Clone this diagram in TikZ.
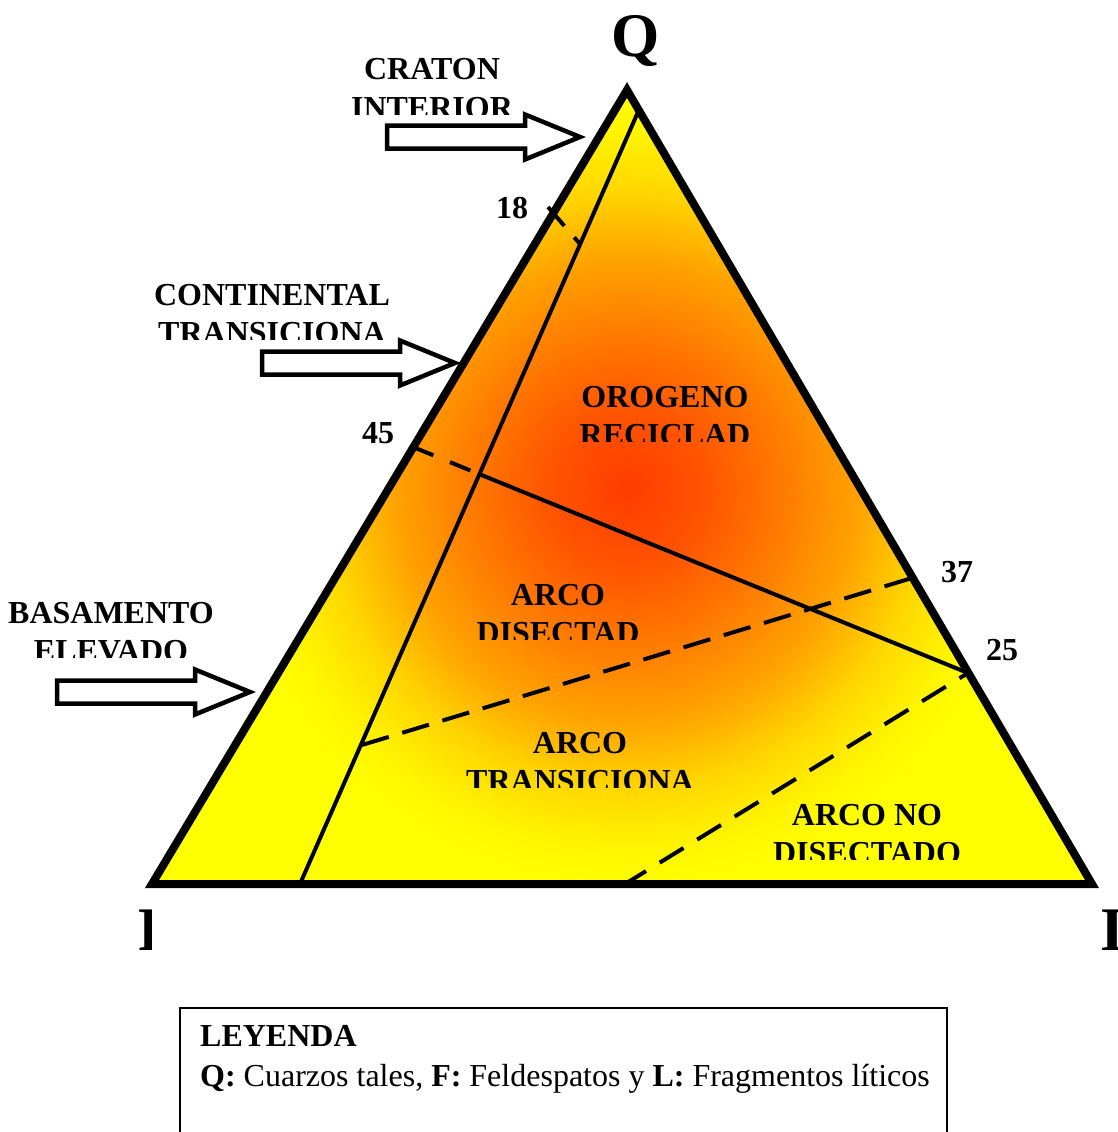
\documentclass[tikz,border=0pt]{standalone}
\usepackage{fontspec}
\setmainfont{Liberation Serif}
\usepackage{tikz}
\usetikzlibrary{positioning}

\definecolor{core}{RGB}{255,60,0}
\definecolor{hot}{RGB}{255,85,0}
\definecolor{warm}{RGB}{255,120,0}
\definecolor{amber}{RGB}{255,162,0}
\definecolor{gold}{RGB}{255,215,0}
\definecolor{pale}{RGB}{255,245,0}
\definecolor{lemon}{RGB}{255,255,0}
\pgfdeclareradialshading{hotcore}{\pgfpoint{0bp}{0bp}}{%
  color(0bp)=(core); color(5bp)=(hot); color(9.4bp)=(warm);
  color(14.4bp)=(amber); color(18.75bp)=(gold); color(22.5bp)=(pale);
  color(25bp)=(lemon); color(50bp)=(lemon)}

\begin{document}
\begin{tikzpicture}[x=1pt, y=-1pt,
    lbl/.style={font=\fontsize{32}{38}\selectfont\bfseries, inner sep=0pt, anchor=base},
    vtx/.style={font=\fontsize{62}{70}\selectfont\bfseries, inner sep=0pt, anchor=base},
    hollow/.style={draw=black, fill=white, line width=4.5pt, line join=miter},
    cut/.style={line width=4pt, dash pattern=on 26pt off 15pt}]
    \def\edgew{8pt}
    \def\innerw{4pt}
    \useasboundingbox (0,0) rectangle (1118,1132);

    \coordinate (qv) at (627,90);
    \coordinate (fv) at (152,884);
    \coordinate (lv) at (1092,884);
    \coordinate (itop) at (638,112);
    \coordinate (ibot) at (300,884);
    \coordinate (p18) at (548,207);
    \coordinate (i18) at (580,244);
    \coordinate (p45) at (413,447);
    \coordinate (i45) at (479,474);
    \coordinate (p25) at (968,673);
    \coordinate (i37) at (362,745);
    \coordinate (p37) at (912,578);
    \coordinate (b25) at (625,884);

    \fill[lemon] (qv) -- (fv) -- (lv) -- cycle;
    \begin{scope}
        \clip (qv) -- (fv) -- (lv) -- cycle;
        \shade[shading=hotcore] (627,490) circle [radius=400pt];
    \end{scope}

    \draw[line width=\innerw] (itop) -- (ibot);
    \draw[cut, dash pattern=on 25pt off 15pt] (p18) -- (i18);
    \draw[cut, dash pattern=on 22pt off 18pt] (p45) -- (i45);
    \draw[line width=\innerw] (i45) -- (p25);
    \draw[cut, dash pattern=on 28pt off 14pt] (i37) -- (p37);
    \draw[cut, dash pattern=on 28pt off 16pt, dash phase=18pt] (p25) -- (b25);
    \draw[line width=\edgew, line join=miter] (qv) -- (fv) -- (lv) -- cycle;

    \foreach \tx/\ty in {580/137, 455/363, 250/692} {
        \draw[hollow] (\tx,\ty) -- (\tx-55,\ty-22.5) -- (\tx-55,\ty-11.5)
            -- (\tx-193,\ty-11.5) -- (\tx-193,\ty+11.5) -- (\tx-55,\ty+11.5)
            -- (\tx-55,\ty+22.5) -- cycle;
    }

    \foreach \nm/\cx/\by/\lineA/\lineB in {craton/432/80/CRATON/INTERIOR,
        contin/272/305/CONTINENTAL/TRANSICIONA, basam/111/623/BASAMENTO/ELEVADO,
        orog/665/407/OROGENO/RECICLAD, disec/558/605/ARCO/DISECTAD,
        trans/580/753/ARCO/TRANSICIONA, nodis/867/825/ARCO NO/DISECTADO} {
        \node[lbl] (\nm-a) at (\cx,\by) {\lineA};
        \begin{scope}
            \clip (\cx-300,\by) rectangle (\cx+300,\by+34);
            \node[lbl] (\nm-b) at (\cx,\by+38) {\lineB};
        \end{scope}
    }

    \node[lbl] (n18) at (512,218) {18};
    \node[lbl] (n45) at (378,443) {45};
    \node[lbl] (n37) at (957,582) {37};
    \node[lbl] (n25) at (1002,660) {25};

    \node[vtx] (qlab) at (636,57) {Q};
    \begin{scope}
        \clip (100,890) rectangle (151,970);
        \node[vtx, anchor=base west] (flab) at (138,950) {F};
    \end{scope}
    \node[vtx, anchor=base west] (llab) at (1101,950) {L};

    \draw[line width=2pt] (180,1132) |- (947,1008) -- (947,1132);
    \node[lbl, anchor=base west] (leyenda) at (200,1046) {LEYENDA};
    \node[lbl, anchor=base west, font=\fontsize{32}{38}\selectfont] (leytxt) at (200,1086)
        {\textbf{Q:} Cuarzos tales, \textbf{F:} Feldespatos y \textbf{L:} Fragmentos líticos};
\end{tikzpicture}
\end{document}
